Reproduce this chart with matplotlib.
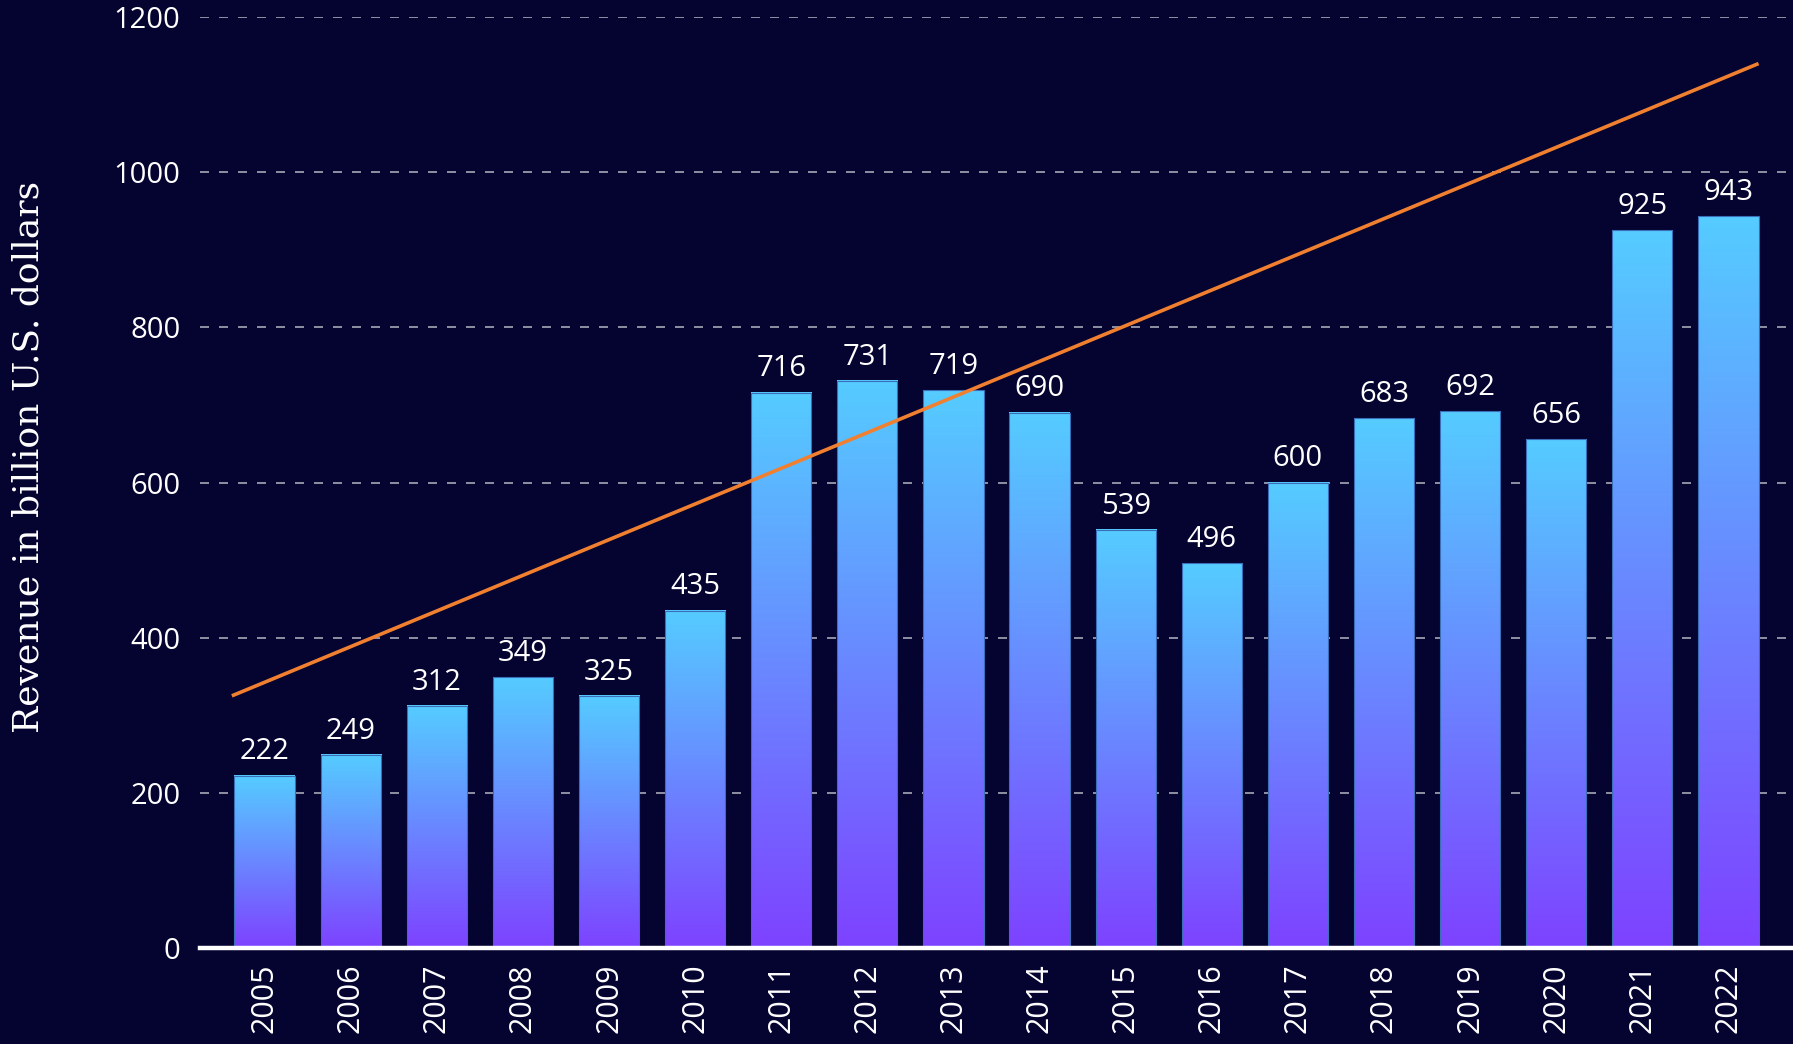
import numpy as np
import matplotlib.pyplot as plt
from matplotlib.colors import LinearSegmentedColormap

years = [2005, 2006, 2007, 2008, 2009, 2010, 2011, 2012, 2013,
         2014, 2015, 2016, 2017, 2018, 2019, 2020, 2021, 2022]
revenue = [222, 249, 312, 349, 325, 435, 716, 731, 719,
           690, 539, 496, 600, 683, 692, 656, 925, 943]
# trend line end points (x in bar index units, y in billion USD)
trend_x = [-0.38, 17.35]
trend_y = [325, 1140]
yticks = [0, 200, 400, 600, 800, 1000, 1200]

bg = '#050330'
bar_cmap = LinearSegmentedColormap.from_list('bars', ['#7E42FF', '#55CCFF'])

fig = plt.figure(figsize=(17.93, 10.44), dpi=100, facecolor=bg)
ax = fig.add_axes([200 / 1793, 1 - 948 / 1044, 1 - 200 / 1793, (948 - 17) / 1044])
ax.set_facecolor(bg)

x = np.arange(len(years))
width = 0.7
grad = np.linspace(0, 1, 256).reshape(-1, 1)

bars = ax.bar(x, revenue, width=width, color='none', edgecolor='#3A6FB8',
              linewidth=0.8, zorder=3)
for rect, val in zip(bars, revenue):
    x0 = rect.get_x()
    ax.imshow(grad, cmap=bar_cmap, origin='lower', aspect='auto',
              extent=[x0, x0 + width, 0, val], zorder=2, interpolation='bicubic')
    ax.text(rect.get_x() + width / 2, val + 12, str(val), ha='center', va='bottom',
            color='white', fontsize=21, family='Open Sans', zorder=4)

ax.plot(trend_x, trend_y, color='#F08030', linewidth=2.6, zorder=5,
        solid_capstyle='butt')

ax.set_xlim(-0.75, len(years) - 0.25)
ax.set_ylim(0, 1200)
ax.set_yticks(yticks)
ax.set_yticklabels([str(t) for t in yticks], family='Open Sans', fontsize=21, color='white')
ax.set_xticks(x)
ax.set_xticklabels([str(y) for y in years], rotation=90, family='Open Sans',
                   fontsize=22, color='white')
ax.tick_params(axis='both', length=0)
ax.tick_params(axis='y', pad=14)
ax.tick_params(axis='x', pad=11)

for t in yticks[1:]:
    ax.axhline(t, color='#A8A8B8', linewidth=1.2, dashes=(5.4, 6.0), zorder=1)

for side in ['top', 'right', 'left']:
    ax.spines[side].set_visible(False)
ax.spines['bottom'].set_color('white')
ax.spines['bottom'].set_linewidth(3.2)
ax.spines['bottom'].set_zorder(6)

fig.text(29 / 1793, 1 - 457 / 1044, 'Revenue in billion U.S. dollars', rotation=90,
         ha='center', va='center', color='white', fontsize=26, family='DejaVu Serif')

fig.savefig('out.png', dpi=100, facecolor=bg)
